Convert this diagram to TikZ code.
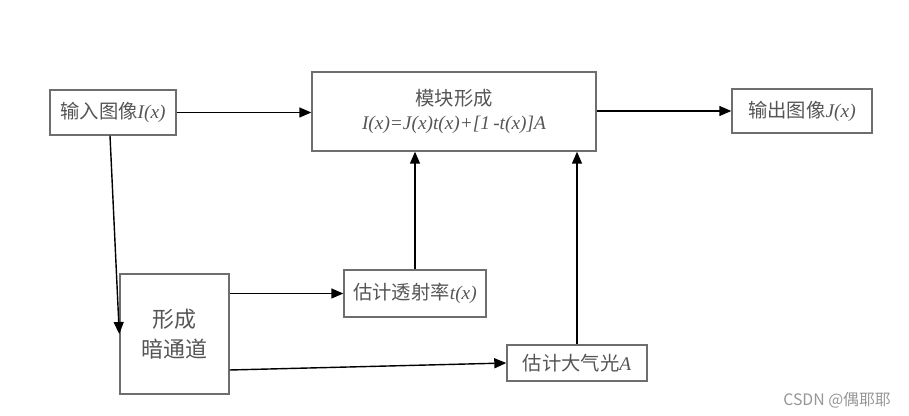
\documentclass[tikz,border=0pt]{standalone}
\usepackage{fontspec}
\setmainfont{Liberation Serif}
\newfontfamily\cjk{Noto Sans CJK SC}
\usepackage{tikz}
\usetikzlibrary{arrows.meta,positioning,calc}
\definecolor{boxgray}{RGB}{110,110,110}
\definecolor{textgray}{RGB}{85,85,85}
\definecolor{markgray}{RGB}{150,150,150}

\begin{document}
\begin{tikzpicture}[
    block/.style={draw=boxgray,thick,fill=white,align=center,
      text=textgray,font=\fontsize{11}{14}\selectfont},
    arr/.style={-{Triangle[length=0.24cm,width=0.2cm]},thick,draw=black}
  ]
    \useasboundingbox (0,0) rectangle (18.18,-8.32);

    \node[block,minimum width=2.52cm,minimum height=0.9cm] (input) at (2.26,-2.25)
      {{\cjk 输入图像}\textit{I(x)}};
    \node[block,minimum width=5.68cm,minimum height=1.58cm] (module) at (9.08,-2.23)
      {{\cjk 模块形成}\\\textit{I(x)=J(x)t(x)+[1\,-t(x)]A}};
    \node[block,minimum width=2.8cm,minimum height=0.88cm] (output) at (16.04,-2.22)
      {{\cjk 输出图像}\textit{J(x)}};

    \node[block,minimum width=2.18cm,minimum height=2.4cm,
      font=\fontsize{12.5}{17}\selectfont] (dark) at (3.49,-6.68)
      {\cjk 形成\\\cjk 暗通道};
    \node[block,minimum width=2.84cm,minimum height=0.94cm] (trans) at (8.3,-5.87)
      {{\cjk 估计透射率}\textit{t(x)}};
    \node[block,minimum width=2.8cm,minimum height=0.72cm] (atmos) at (11.54,-7.26)
      {{\cjk 估计大气光}\textit{A}};

    \draw[arr] (input.east) -- (input.east -| module.west);
    \draw[arr] (output.west -| module.east) -- (output.west);
    \draw[arr] ([xshift=-0.06cm]input.south) -- (dark.west);
    \draw[arr] (dark.east |- trans.west) -- (trans.west);
    \draw[arr] ([yshift=-0.72cm]dark.east) -- (atmos.west);
    \draw[arr] (trans.north) -- (trans.north |- module.south);
    \draw[arr] (atmos.north) -- (atmos.north |- module.south);

    \node[text=markgray,font=\cjk\fontsize{9}{11}\selectfont] (mark) at (16.74,-8.0)
      {CSDN @偶耶耶};
  \end{tikzpicture}
\end{document}
